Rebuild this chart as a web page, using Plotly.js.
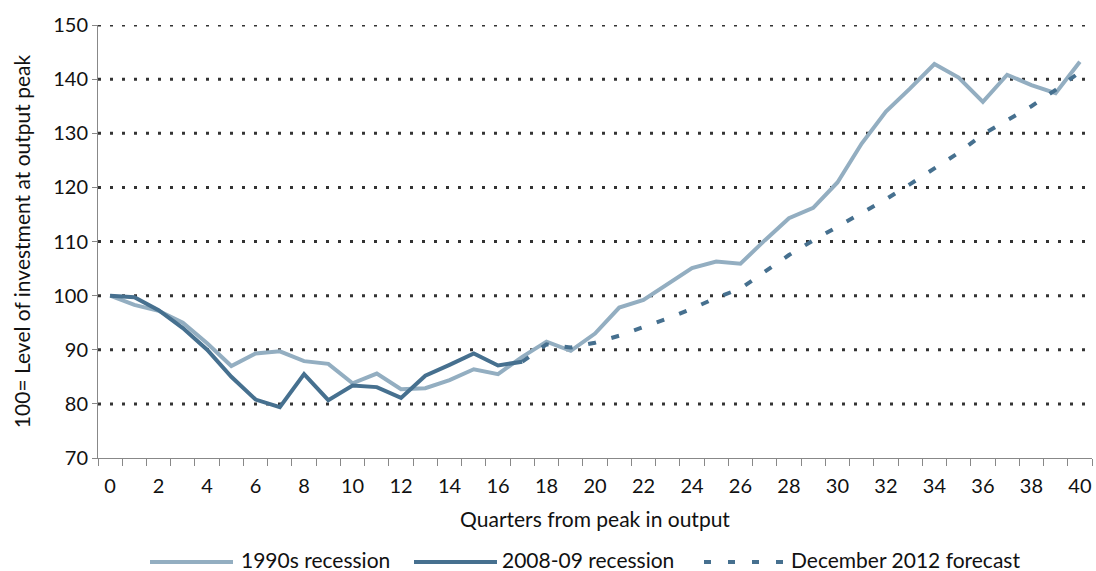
<!DOCTYPE html>
<html>
<head>
<meta charset="utf-8">
<script src="https://cdn.plot.ly/plotly-3.0.1.min.js"></script>
<style>html,body{margin:0;padding:0;background:#fff;}#chart{width:1096px;height:571px;}</style>
</head>
<body>
<div id="chart"></div>
<script>
// Quarters from peak in output
const quarters = Array.from({length: 41}, (_, i) => i);

const recession1990s = [100.0, 98.3, 97.2, 95.0, 91.2, 87.0, 89.3, 89.7, 87.9, 87.4,
  83.8, 85.6, 82.7, 82.9, 84.4, 86.4, 85.5, 88.7, 91.5, 89.8,
  93.0, 97.8, 99.2, 102.1, 105.1, 106.3, 105.9, 110.2, 114.3, 116.2,
  120.9, 128.1, 134.0, 138.3, 142.8, 140.3, 135.8, 140.8, 138.9, 137.4, 143.2];

const quarters2008 = quarters.slice(0, 18);
const recession2008 = [100.0, 99.7, 97.3, 94.0, 90.0, 85.0, 80.8, 79.4, 85.5, 80.7,
  83.4, 83.1, 81.1, 85.2, 87.2, 89.3, 87.1, 87.8];

const quartersForecast = quarters.slice(17);
const forecast2012 = [87.8, 91.0, 90.4, 91.3, 92.6, 94.2, 95.8, 97.6, 99.6, 101.3,
  104.5, 107.5, 110.2, 112.7, 115.2, 117.8, 120.6, 123.5, 126.4, 129.8,
  132.4, 135.0, 138.0, 141.3];

const xTickVals = quarters.filter(q => q % 2 === 0);
const yGridVals = [80, 90, 100, 110, 120, 130, 140, 150];

const seriesNames = ['1990s recession', '2008-09 recession', 'December 2012 forecast'];

const LIGHT = '#93AEC1';
const DARK = '#46708F';
const FONT = 'Lato, "Open Sans", sans-serif';

const traces = [
  {x: quarters, y: recession1990s, name: seriesNames[0], type: 'scatter', mode: 'lines',
   line: {color: LIGHT, width: 4}},
  {x: quartersForecast, y: forecast2012, name: seriesNames[2], type: 'scatter', mode: 'lines',
   line: {color: DARK, width: 4, dash: '8px,16px'}},
  {x: quarters2008, y: recession2008, name: seriesNames[1], type: 'scatter', mode: 'lines',
   line: {color: DARK, width: 4}}
];

// plot-area geometry (pixels)
const L = 98, R = 4, T = 25, B = 113, W = 1096, H = 571;
const PW = W - L - R, PH = H - T - B;
const px = x => (x - L) / PW;
const py = y => (H - B - y) / PH;

const shapes = yGridVals.map(v => ({
  type: 'line', xref: 'paper', yref: 'y', x0: 0, x1: 1, y0: v, y1: v,
  line: {color: '#333', width: 3, dash: '3px,9px'}, layer: 'below'
}));

// custom legend
const legY = 562, legTextY = 559;
const legendItems = [
  {x0: 150, x1: 233, tx: 239, color: LIGHT, dash: 'solid', text: seriesNames[0]},
  {x0: 414, x1: 497, tx: 500, color: DARK, dash: 'solid', text: seriesNames[1]},
  {x0: 704, x1: 786, tx: 789, color: DARK, dash: '7px,17px', text: seriesNames[2]}
];
const annotations = [];
legendItems.forEach(it => {
  shapes.push({type: 'line', xref: 'paper', yref: 'paper', x0: px(it.x0), x1: px(it.x1),
    y0: py(legY), y1: py(legY), line: {color: it.color, width: 4, dash: it.dash}});
  annotations.push({xref: 'paper', yref: 'paper', x: px(it.tx), y: py(legTextY), xanchor: 'left',
    yanchor: 'middle', text: it.text, showarrow: false, font: {family: FONT, size: 21, color: '#111'}});
});

const layout = {
  width: W, height: H,
  margin: {l: L, r: R, t: T, b: B, autoexpand: false},
  paper_bgcolor: '#fff', plot_bgcolor: '#fff',
  showlegend: false,
  font: {family: FONT, size: 20, color: '#111'},
  xaxis: {
    range: [-0.5, 40.5], tickvals: xTickVals, ticks: '', showgrid: false, zeroline: false,
    showline: true, linecolor: '#888', linewidth: 1, ticklabelstandoff: 10,
    minor: {tick0: -0.5, dtick: 1, ticks: 'outside', ticklen: 7, tickcolor: '#888', tickwidth: 1, showgrid: false},
    tickfont: {family: FONT, size: 20, color: '#111'},
    title: {text: 'Quarters from peak in output', font: {family: FONT, size: 21, color: '#111'}, standoff: 16}
  },
  yaxis: {
    range: [70, 150], dtick: 10, tick0: 70, ticks: 'outside', ticklen: 5, tickcolor: '#888',
    showgrid: false, zeroline: false, showline: true, linecolor: '#888', linewidth: 1,
    tickfont: {family: FONT, size: 20, color: '#111'},
    title: {text: '100= Level of investment at output peak', font: {family: FONT, size: 21, color: '#111'}, standoff: 16}
  },
  shapes: shapes,
  annotations: annotations
};

Plotly.newPlot('chart', traces, layout, {displayModeBar: false, staticPlot: true});
</script>
</body>
</html>
